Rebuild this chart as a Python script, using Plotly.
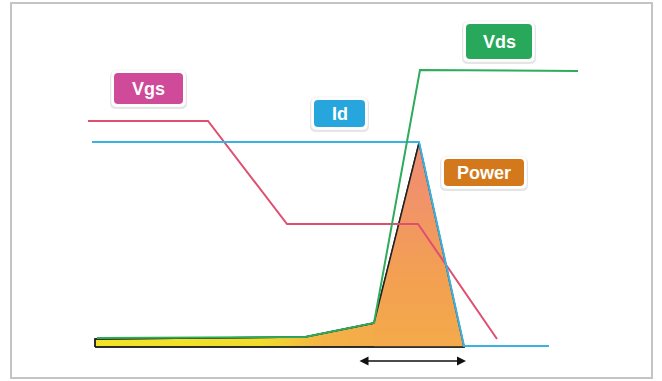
import plotly.graph_objects as go

# ---- data (time units / signal level units) ----
t_vgs = [-7, 113, 192, 323, 402]
vgs = [226, 226, 123, 123, 8]

t_id = [-3, 324, 369, 454]
i_d = [205, 205, 1, 1]

t_vds = [2, 210, 279, 325, 483]
vds = [9, 10, 24, 277, 276]

t_pow = [0, 0, 210, 279, 324, 369, 0]
power = [0, 8, 10, 24, 204, 0, 0]

arrow_t = [263, 371]
arrow_level = -14

labels = ["Vgs", "Id", "Vds", "Power"]

# ---- style / layout ----
W, H = 662, 381
X0, Y0 = 95, 347  # pixel position of t=0, level=0


def d(px, py):
    return px - X0, Y0 - py


def rrect(x0, y0, x1, y1, r):
    pts = [
        ("M", [(x0 + r, y0)]),
        ("L", [(x1 - r, y0)]),
        ("Q", [(x1, y0), (x1, y0 + r)]),
        ("L", [(x1, y1 - r)]),
        ("Q", [(x1, y1), (x1 - r, y1)]),
        ("L", [(x0 + r, y1)]),
        ("Q", [(x0, y1), (x0, y1 - r)]),
        ("L", [(x0, y0 + r)]),
        ("Q", [(x0, y0), (x0 + r, y0)]),
    ]
    s = ""
    for cmd, ps in pts:
        s += cmd + " " + " ".join("%g,%g" % d(*p) for p in ps) + " "
    return s + "Z"


label_boxes = {
    "Vgs": (114, 73, 183, 104),
    "Id": (314, 100, 365, 127),
    "Vds": (466, 24, 532, 59),
    "Power": (444, 159, 524, 186),
}
label_colors = {
    "Vgs": "#cf4a99",
    "Id": "#27a6de",
    "Vds": "#27a85a",
    "Power": "#d3791c",
}

fig = go.Figure()

# power area: horizontal yellow -> orange gradient
fig.add_trace(go.Scatter(
    x=t_pow, y=power, mode="lines", fill="toself",
    line=dict(color="#222222", width=1.5),
    fillgradient=dict(type="horizontal", colorscale=[
        [0.0, "#f2e426"], [0.45, "#f2dc2c"], [0.62, "#f4b246"],
        [0.76, "#f4aa4a"], [1.0, "#f3a64c"]]),
    hoverinfo="skip", showlegend=False))

# power peak: vertical orange -> salmon gradient
tri_t = t_pow[3:6] + [t_pow[3]]
tri_p = power[3:6] + [0]
fig.add_trace(go.Scatter(
    x=tri_t, y=tri_p, mode="lines", fill="toself",
    line=dict(width=0),
    fillgradient=dict(type="vertical", colorscale=[
        [0.0, "#f4aa4a"], [0.35, "#f3a052"], [0.7, "#f19468"], [1.0, "#ef8c74"]]),
    hoverinfo="skip", showlegend=False))

# power outline
fig.add_trace(go.Scatter(x=t_pow, y=power, mode="lines",
                         line=dict(color="#222222", width=1.5),
                         hoverinfo="skip", showlegend=False))

fig.add_trace(go.Scatter(x=t_vgs, y=vgs, mode="lines",
                         line=dict(color="#df4f70", width=2), showlegend=False))
fig.add_trace(go.Scatter(x=t_id, y=i_d, mode="lines",
                         line=dict(color="#3ab2e2", width=2), showlegend=False))
fig.add_trace(go.Scatter(x=t_vds, y=vds, mode="lines",
                         line=dict(color="#2eac5c", width=2), showlegend=False))

shapes = []
# outer frame
shapes.append(dict(type="rect", xref="paper", yref="paper",
                   x0=11 / W, x1=652 / W, y0=1 - 378 / H, y1=1 - 3 / H,
                   line=dict(color="#c4c4c4", width=2), fillcolor="rgba(0,0,0,0)"))

annotations = []
for name in labels:
    x0, y0, x1, y1 = label_boxes[name]
    shapes.append(dict(type="path", xref="x", yref="y",
                       path=rrect(x0 - 4, y0 - 2, x1 + 4, y1 + 5, 6),
                       fillcolor="rgba(0,0,0,0.10)", line=dict(width=0)))
    shapes.append(dict(type="path", xref="x", yref="y",
                       path=rrect(x0 - 3, y0 - 3, x1 + 3, y1 + 3, 6),
                       fillcolor="white", line=dict(color="#e6e6e6", width=0.5)))
    shapes.append(dict(type="path", xref="x", yref="y",
                       path=rrect(x0, y0, x1, y1, 4),
                       fillcolor=label_colors[name], line=dict(width=0)))
    cx, cy = d((x0 + x1) / 2, (y0 + y1) / 2)
    annotations.append(dict(x=cx, y=cy, xref="x", yref="y", text="<b>%s</b>" % name,
                            showarrow=False,
                            font=dict(family="Liberation Sans, Arial", size=18, color="white")))

annotations.append(dict(x=arrow_t[1], y=arrow_level, ax=arrow_t[0], ay=arrow_level,
                        xref="x", yref="y", axref="x", ayref="y", text="",
                        showarrow=True, arrowhead=2, arrowside="end+start",
                        arrowsize=1.2, arrowwidth=1.5, arrowcolor="#111111"))

fig.update_layout(
    width=W, height=H, margin=dict(l=0, r=0, t=0, b=0),
    paper_bgcolor="white", plot_bgcolor="white",
    xaxis=dict(range=[-X0, W - X0], visible=False, fixedrange=True),
    yaxis=dict(range=[Y0 - H, Y0], visible=False, fixedrange=True),
    shapes=shapes, annotations=annotations, showlegend=False,
)

fig.write_html("out.html", config={"displayModeBar": False},
               post_script="document.body.style.margin='0';document.body.style.overflow='hidden';")
